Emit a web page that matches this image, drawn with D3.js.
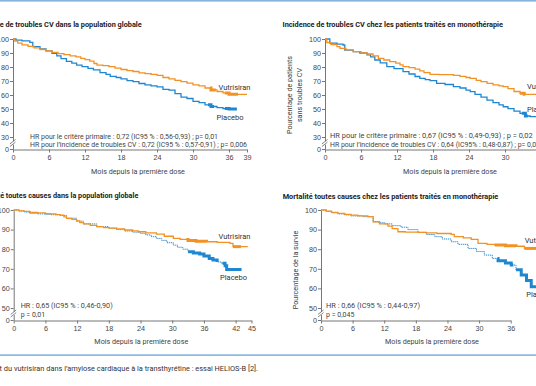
<!DOCTYPE html>
<html lang="fr">
<head>
<meta charset="utf-8">
<script src="https://cdn.jsdelivr.net/npm/d3@7"></script>
<style>
  body { margin: 0; background: #fff; }
  svg { display: block; font-family: Roboto, "Open Sans", sans-serif; }
  .tick text { font-size: 7.2px; fill: #444; }
  .domain, .tick line { stroke: #777; }
</style>
</head>
<body>
<div id="chart"></div>
<script>
// Données : [mois, pourcentage]

// Incidence de troubles CV - population globale
const incGlobVut = [[0,100],[0.3,98.5],[0.8,97],[1.5,95.8],[2.5,94.8],[3.5,93.6],[4.5,92.5],[5.5,91.5],[6.5,90.5],[7.5,89.6],[8.5,88.8],[9.5,88],[10.5,87.2],[11.3,86.2],[12,85.3],[12.8,84.2],[13.5,82.5],[14,81.4],[15,81],[16,80.2],[17,79.2],[18,78.2],[19,77.4],[20,76.8],[21,75.8],[22,75.2],[23,74.8],[24,74],[25,72.5],[26,71.5],[27,70.5],[28,69.6],[29,68.5],[30,67.2],[31,66.5],[32,65],[33,63.6],[34,62.5],[35,61.5],[36,60.5],[39,60.5]];
const incGlobPla = [[0,100],[0.5,99.2],[1.5,98.6],[2.8,97.6],[3.3,94.5],[4.5,93],[5.5,91.5],[6.5,89.8],[7.3,88],[8,86],[8.9,84],[9.8,82.8],[10.6,81.4],[11.5,80.3],[12.5,79],[13.4,77.9],[14.5,76],[15.5,74.8],[16.2,73.3],[17.2,72.5],[18,71.5],[19,70.2],[20,69.5],[21,68.2],[22,67.2],[23,66.5],[24,65.8],[25,64],[26,63.5],[27,61],[28,58.5],[29,57.5],[30,55.5],[31,54.5],[32,53],[33,51.8],[34,51],[35,50.3],[36,50],[37.3,50]];

// Incidence de troubles CV - monothérapie
const incMonoVut = [[0,100],[0.3,97.5],[1,96],[2,94.5],[2.5,93.3],[3.5,92.3],[4.7,91],[6,90],[7,89.3],[8,88],[8.9,86.2],[9.8,85],[10.8,83.8],[11.8,82.8],[12.5,81.5],[13,80.2],[14,79.5],[15,78.5],[15.8,77.3],[16.5,76],[17.5,74.8],[19,74.5],[21.4,74],[22.5,73.3],[23.5,72.5],[24.2,71.9],[25.2,70.5],[26,69.5],[27,68.3],[28,67.3],[29,66.5],[29.7,66],[30.5,64.5],[31.5,62.5],[32.5,61.2],[33.2,60.5],[35.3,60.5]];
const incMonoPla = [[0,100],[0.8,97],[2,96.3],[3,95.7],[3.3,92],[4.7,91],[5.8,90],[7,88.6],[7.6,87.2],[8.3,85],[9.2,83],[10.3,80.2],[11.5,78.8],[13,76.7],[14,75],[15,73.2],[15.8,71.9],[16.7,71],[17.5,70.2],[18.6,68.3],[20,67.5],[21.4,66],[22.5,65],[23.5,63.5],[24.2,62.4],[25,60.5],[26,58.5],[27,56.4],[28,54.5],[29,53],[29.7,51.6],[30.5,50.2],[31.5,48.5],[32.5,46.9],[33.4,45],[34.2,44.5],[35.3,44.5]];

// Mortalité toutes causes - population globale
const mortGlobVut = [[0,100],[1,99.6],[2,99.3],[3.1,98.8],[4.5,98.5],[6,98.2],[6.9,98],[8,97.6],[8.8,97.4],[9.5,96.5],[10,95.7],[11,95.2],[11.9,94.5],[12.5,93.6],[13.2,92.9],[14.5,92.2],[15.7,91.5],[17,91],[18,90.8],[19.5,90.3],[21,89.8],[22.5,89.3],[23.6,88.9],[25,88.3],[27,87.7],[28.5,86.6],[30.2,85.5],[31.5,85],[33,84.4],[34.5,84],[36.5,83.8],[38.5,83.5],[40.9,83],[41.5,81.3],[44.3,81.3]];
const mortGlobPla = [[0,100],[1,99.5],[2,99],[3,98.3],[4.5,98],[6,97.8],[7,97.6],[8.8,97.2],[10,95.8],[11.9,94.3],[13.2,92.9],[15.7,91.5],[18,90.7],[19.5,90],[21,89.3],[22.5,88.7],[23.9,88.1],[25,87.3],[26,86.4],[27,85.5],[28,84.5],[29,83.3],[30.2,82.1],[31,81],[32,80],[33,78.7],[34,78],[35.2,77.5],[36,76.5],[37,75.3],[37.7,74.5],[38.5,73.5],[39.3,72.8],[40,71.5],[40.3,69.7],[43.1,69.7]];

// Mortalité toutes causes - monothérapie
const mortMonoVut = [[0,100],[1,99.4],[2,98.8],[3.2,98.3],[4.5,97.8],[5.7,97.4],[7,97],[8.9,96.6],[9.9,94],[11.1,92.9],[12.7,91.8],[13.5,90.5],[14.6,88.9],[16,88.7],[18.4,88.6],[20,88.3],[22,88],[24.7,87.6],[25.3,86.4],[27,85.8],[28.5,85],[29.8,83],[31.5,82.5],[33,82.1],[35,81.8],[37,81.5],[38.6,80.4],[40.8,80.4]];
const mortMonoPla = [[0,100],[1,99.3],[2,98.6],[3.2,98],[4.5,97.5],[5.7,97],[8,96.6],[9.9,94],[11,93.5],[12.1,92.9],[13.5,92],[15.2,91.2],[16.5,90],[18.4,88.6],[20,87.5],[21.6,86.4],[23,85.2],[24.7,83.8],[26,82.5],[27.9,80.4],[29.5,78.8],[31,77],[32.5,75.3],[33.6,74.1],[35,73],[36.1,71.9],[37,69.5],[38,66.8],[39,64],[39.9,60.9],[40.8,60.5]];

// Zones de censures denses (début, fin en mois)
const censIncGlobVut = [[32.8,33.8],[35.3,37.5]];
const censIncGlobPla = [[32.5,33.5],[35.3,37.3]];
const censIncMonoVut = [[32.5,33.4]];
const censIncMonoPla = [[32.8,33.8]];
const censMortGlobVut = [[32.7,36.5],[41.5,43]];
const censMortGlobPla = [[33,38.5],[39.5,43.1]];
const censMortMonoVut = [[33,37],[38.6,40.8]];
const censMortMonoPla = [[33.5,36.5],[37,40.8]];

// Graduations
const ticksXInc1 = [0, 6, 12, 18, 24, 30, 36, 39];
const ticksXInc2 = [0, 6, 12, 18, 24, 30];
const ticksXMort1 = [0, 6, 12, 18, 24, 30, 36, 42, 45];
const ticksXMort2 = [0, 6, 12, 18, 24, 30, 36];
const ticksYInc = [0, 30, 40, 50, 60, 70, 80, 90, 100];
const ticksYMort = [0, 50, 60, 70, 80, 90, 100];

// Textes
const titres = [
  "Incidence de troubles CV dans la population globale",
  "Incidence de troubles CV chez les patients traités en monothérapie",
  "Mortalité toutes causes dans la population globale",
  "Mortalité toutes causes chez les patients traités en monothérapie"
];
const hrInc1 = ["HR pour le critère primaire : 0,72 (IC95 % : 0,56-0,93) ; p= 0,01",
                "HR pour l’incidence de troubles CV : 0,72 (IC95 % : 0,57-0,91) ; p= 0,006"];
const hrInc2 = ["HR pour le critère primaire : 0,67 (IC95 % : 0,49-0,93) ; p = 0,02",
                "HR pour l’incidence de troubles CV : 0,64 (IC95% : 0,48-0,87) ; p= 0,005"];
const hrMort1 = ["HR : 0,65 (IC95 % : 0,46-0,90)", "p = 0,01"];
const hrMort2 = ["HR : 0,66 (IC95 % : 0,44-0,97)", "p = 0,045"];
const titreAxeX = "Mois depuis la première dose";
const legende = "Figure. Effet du vutrisiran dans l’amylose cardiaque à la transthyrétine : essai HELIOS-B [2].";

const couleurVut = "#f39224";
const couleurPla = "#1f87d2";
const bleuCadre = "#86b3dc";

const svg = d3.select("#chart")
  .append("svg")
  .attr("width", 536)
  .attr("height", 386);

// Filets bleus du cadre
svg.append("rect").attr("x", 0).attr("y", 0).attr("width", 536).attr("height", 1.6).attr("fill", bleuCadre);
svg.append("rect").attr("x", 0).attr("y", 354.3).attr("width", 536).attr("height", 1.6).attr("fill", bleuCadre);

// Configuration des 4 panneaux
const panneaux = [
  { titre: titres[0], titreAncre: "end", titreX: 141.7, titreY: 25, titreLong: 170,
    xDom: [0, 39], xRange: [13, 247], xTicks: ticksXInc1,
    yDom: [0, 30, 100], yRange: [149, 137, 39], yTicks: ticksYInc, coupure: 143,
    vut: incGlobVut, pla: incGlobPla, censVut: censIncGlobVut, censPla: censIncGlobPla, pointille: false,
    hr: hrInc1, hrX: 30, hrY: [137, 144.5], hrLong: [188, 217],
    labVut: [218.5, 87], labPla: [216.5, 117],
    axeY: [], axeYX: [], axeYY: 95,
    axeXX: 138, axeXY: 171 },
  { titre: titres[1], titreAncre: "start", titreX: 282.5, titreY: 25, titreLong: 220.5,
    xDom: [0, 36], xRange: [325, 541], xTicks: ticksXInc2,
    yDom: [0, 30, 100], yRange: [149, 137, 39], yTicks: ticksYInc, coupure: 143,
    vut: incMonoVut, pla: incMonoPla, censVut: censIncMonoVut, censPla: censIncMonoPla, pointille: false,
    hr: hrInc2, hrX: 330, hrY: [136, 144.3], hrLong: [202.7, 214],
    labVut: [527, 86.7], labPla: [527, 109],
    axeY: ["Pourcentage de patients", "sans troubles CV"], axeYX: [289.5, 299.5], axeYY: 95,
    axeXX: 450, axeXY: 171 },
  { titre: titres[2], titreAncre: "end", titreX: 138.3, titreY: 196, titreLong: 164,
    xDom: [0, 45], xRange: [13.7, 251.5], xTicks: ticksXMort1,
    yDom: [0, 50, 100], yRange: [320, 308, 210], yTicks: ticksYMort, coupure: 313.5,
    vut: mortGlobVut, pla: mortGlobPla, censVut: censMortGlobVut, censPla: censMortGlobPla, pointille: true,
    hr: hrMort1, hrX: 20.7, hrY: [306, 314.3], hrLong: [92, null],
    labVut: [218.5, 236], labPla: [220, 277.3],
    axeY: [], axeYX: [], axeYY: 270,
    axeXX: 141.3, axeXY: 341.7 },
  { titre: titres[3], titreAncre: "start", titreX: 282.7, titreY: 196.7, titreLong: 215.6,
    xDom: [0, 36], xRange: [321, 510.7], xTicks: ticksXMort2,
    yDom: [0, 50, 100], yRange: [320, 308, 210], yTicks: ticksYMort, coupure: 313.5,
    vut: mortMonoVut, pla: mortMonoPla, censVut: censMortMonoVut, censPla: censMortMonoPla, pointille: true,
    hr: hrMort2, hrX: 326, hrY: [306, 314.3], hrLong: [94, null],
    labVut: [524.7, 240.7], labPla: [526.3, 294.3],
    axeY: ["Pourcentage de la survie"], axeYX: [295], axeYY: 270,
    axeXX: 432, axeXY: 341.7 }
];

// Valeur de la courbe en escalier à un instant donné
function valeurA(serie, m) {
  let v = serie[0][1];
  serie.forEach(d => { if (d[0] <= m) v = d[1]; });
  return v;
}

// Portion de courbe entre a et b
function portion(serie, a, b) {
  const pts = [[a, valeurA(serie, a)]];
  serie.forEach(d => { if (d[0] > a && d[0] < b) pts.push(d); });
  pts.push([b, valeurA(serie, b)]);
  return pts;
}

panneaux.forEach(p => {
  const g = svg.append("g");

  const x = d3.scaleLinear().domain(p.xDom).range(p.xRange);
  const y = d3.scaleLinear().domain(p.yDom).range(p.yRange);
  const x0 = p.xRange[0];

  // Axes
  g.append("g")
    .attr("transform", `translate(0,${p.yRange[0] + 0.5})`)
    .call(d3.axisBottom(x).tickValues(p.xTicks).tickSize(3).tickSizeOuter(0).tickPadding(2));

  g.append("g")
    .attr("transform", `translate(${x0},0)`)
    .call(d3.axisLeft(y).tickValues(p.yTicks).tickSize(3).tickSizeOuter(0).tickPadding(1));

  // Symbole de coupure de l'axe
  g.append("rect")
    .attr("x", x0 - 1.5).attr("y", p.coupure - 1.6)
    .attr("width", 3).attr("height", 3.2)
    .attr("fill", "#fff");
  [-1.3, 1.3].forEach(dy => {
    g.append("line")
      .attr("x1", x0 - 3).attr("y1", p.coupure + dy + 2.2)
      .attr("x2", x0 + 2.5).attr("y2", p.coupure + dy - 2.2)
      .attr("stroke", "#666").attr("stroke-width", 0.8);
  });

  const ligne = d3.line()
    .x(d => x(d[0]))
    .y(d => y(d[1]))
    .curve(d3.curveStepAfter);

  // Placebo puis vutrisiran
  g.append("path")
    .attr("d", ligne(p.pla))
    .attr("fill", "none")
    .attr("stroke", couleurPla)
    .attr("stroke-width", p.pointille ? 1 : 1.3)
    .attr("stroke-dasharray", p.pointille ? "1.2,0.8" : null);

  g.append("path")
    .attr("d", ligne(p.vut))
    .attr("fill", "none")
    .attr("stroke", couleurVut)
    .attr("stroke-width", 1.3);

  // Censures denses : trait épaissi
  p.censPla.forEach(z => {
    g.append("path")
      .attr("d", ligne(portion(p.pla, z[0], z[1])))
      .attr("fill", "none").attr("stroke", couleurPla).attr("stroke-width", 3);
  });
  p.censVut.forEach(z => {
    g.append("path")
      .attr("d", ligne(portion(p.vut, z[0], z[1])))
      .attr("fill", "none").attr("stroke", couleurVut).attr("stroke-width", 3);
  });

  // Titre du panneau
  g.append("text")
    .attr("x", p.titreX).attr("y", p.titreY)
    .attr("dy", "0.35em")
    .attr("text-anchor", p.titreAncre)
    .attr("font-size", "7px")
    .attr("font-weight", "bold")
    .attr("fill", "#222")
    .attr("textLength", p.titreLong)
    .attr("lengthAdjust", "spacingAndGlyphs")
    .text(p.titre);

  // Hazard ratios
  p.hr.forEach((txt, i) => {
    const h = g.append("text")
      .attr("x", p.hrX).attr("y", p.hrY[i])
      .attr("dy", "0.35em")
      .attr("font-size", "7px")
      .attr("fill", "#444")
      .text(txt);
    if (p.hrLong[i]) h.attr("textLength", p.hrLong[i]).attr("lengthAdjust", "spacingAndGlyphs");
  });

  // Noms des bras
  g.append("text")
    .attr("x", p.labVut[0]).attr("y", p.labVut[1])
    .attr("dy", "0.35em").attr("font-size", "7.5px").attr("fill", "#333")
    .text("Vutrisiran");
  g.append("text")
    .attr("x", p.labPla[0]).attr("y", p.labPla[1])
    .attr("dy", "0.35em").attr("font-size", "7.5px").attr("fill", "#333")
    .text("Placebo");

  // Titre de l'axe Y (deux lignes possibles)
  p.axeY.forEach((txt, i) => {
    g.append("text")
      .attr("transform", `translate(${p.axeYX[i]},${p.axeYY}) rotate(-90)`)
      .attr("dy", "0.35em")
      .attr("text-anchor", "middle")
      .attr("font-size", "7.2px")
      .attr("fill", "#444")
      .text(txt);
  });

  // Titre de l'axe X
  g.append("text")
    .attr("x", p.axeXX).attr("y", p.axeXY)
    .attr("dy", "0.35em")
    .attr("text-anchor", "middle")
    .attr("font-size", "7.2px")
    .attr("fill", "#444")
    .text(titreAxeX);
});

// Légende de la figure
svg.append("text")
  .attr("x", 258).attr("y", 368)
  .attr("dy", "0.35em")
  .attr("text-anchor", "end")
  .attr("font-size", "7.4px")
  .attr("fill", "#333")
  .text(legende);
</script>
</body>
</html>
